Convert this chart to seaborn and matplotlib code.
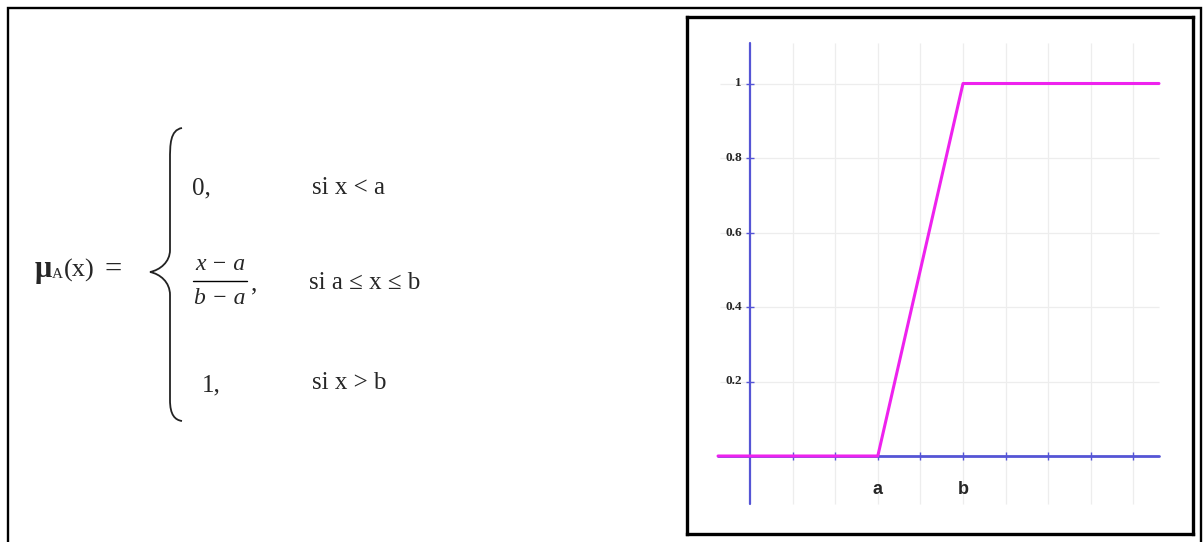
import matplotlib
matplotlib.use("Agg")
import matplotlib.pyplot as plt
from matplotlib.path import Path
from matplotlib.patches import PathPatch
import seaborn as sns
import pandas as pd
import numpy as np

# membership function (trapezoid / ramp), a=3, b=5
x_pts = [-0.75, 3, 5, 9.6]
mu_pts = [0, 0, 1, 1]
y_ticks = [0.2, 0.4, 0.6, 0.8, 1.0]
y_tick_labels = ["0.2", "0.4", "0.6", "0.8", "1"]
x_ticks = [1, 2, 3, 4, 5, 6, 7, 8, 9]
x_names = {"a": 3, "b": 5}

PINK = "#ee22ee"
BLUE = "#5555d5"
GRID = "#ededed"

sns.set_style("white")
plt.rcParams["font.family"] = ["Liberation Serif", "DejaVu Serif"]

fig = plt.figure(figsize=(12.03, 5.42), dpi=100)

# overlay in pixel coordinates for frame, brace and formula
ov = fig.add_axes([0, 0, 1, 1])
ov.set_xlim(0, 1203)
ov.set_ylim(542, 0)
ov.axis("off")
ov.patch.set_alpha(0)

ov.plot([7.5, 7.5, 1200.5, 1200.5], [542, 7.5, 7.5, 542], color="black", lw=1.7,
        solid_joinstyle="miter")

# brace
verts = [(182, 128), (170, 130), (170, 145), (170, 160),
         (170, 250),
         (170, 262), (160, 270), (150, 272),
         (160, 274), (170, 282), (170, 295),
         (170, 400),
         (170, 415), (175, 420), (182, 421)]
codes = [Path.MOVETO, Path.CURVE4, Path.CURVE4, Path.LINETO,
         Path.LINETO,
         Path.CURVE4, Path.CURVE4, Path.CURVE4,
         Path.CURVE4, Path.CURVE4, Path.CURVE4,
         Path.LINETO,
         Path.CURVE4, Path.CURVE4, Path.CURVE4]
ov.add_patch(PathPatch(Path(verts, codes), fill=False, lw=1.3, color="#222222"))

fs = 18
ov.text(35, 270, "μ", fontsize=22, fontweight="bold", va="center", ha="left")
ov.text(52, 275, "A", fontsize=11, va="center", ha="left")
ov.text(64, 270, "(x)", fontsize=19, va="center", ha="left")
ov.text(104, 270, "=", fontsize=22, va="center", ha="left")

ov.text(192, 188, "0,", fontsize=fs, va="center", ha="left")
ov.text(312, 188, "si x < a", fontsize=fs, va="center", ha="left")

ov.text(220, 265, "x − a", fontsize=fs - 1, style="italic", va="center", ha="center")
ov.plot([193, 247], [281, 281], color="black", lw=1.0)
ov.text(220, 299, "b − a", fontsize=fs - 1, style="italic", va="center", ha="center")
ov.text(251, 284, ",", fontsize=fs, va="center", ha="left")
ov.text(309, 283, "si a ≤ x ≤ b", fontsize=fs, va="center", ha="left")

ov.text(202, 385, "1,", fontsize=fs, va="center", ha="left")
ov.text(312, 383, "si x > b", fontsize=fs, va="center", ha="left")

# plot panel
px, py = 42.6, 372.5
left, right, top, bottom = 687, 1193, 17, 534
ax = fig.add_axes([left / 1203, (542 - bottom) / 542,
                   (right - left) / 1203, (bottom - top) / 542])
ax.set_xlim((left - 750) / px, (right - 750) / px)
ax.set_ylim((456 - bottom) / py, (456 - top) / py)
for s in ax.spines.values():
    s.set_color("black")
    s.set_linewidth(2.4)

# grid
ax.hlines(y_ticks, -0.7, 9.6, color=GRID, lw=0.9, zorder=1)
ax.vlines(x_ticks, -0.13, 1.11, color=GRID, lw=0.9, zorder=1)

# axes lines
ax.plot([-0.75, 9.6], [0, 0], color=BLUE, lw=2.0, zorder=2)
ax.plot([0, 0], [-0.13, 1.11], color=BLUE, lw=1.6, zorder=2)
tx = 4 / px
ty = 4 / py
ax.vlines(x_ticks, -ty, ty, color=BLUE, lw=1.0, zorder=2)
ax.hlines(y_ticks, -tx, tx, color=BLUE, lw=1.0, zorder=2)

df = pd.DataFrame({"x": x_pts, "mu": mu_pts})
sns.lineplot(data=df, x="x", y="mu", ax=ax, color=PINK, lw=2.2, zorder=3, sort=False)
ax.set_xlabel("")
ax.set_ylabel("")
ax.set_xticks([])
ax.set_yticks([])

for v, lab in zip(y_ticks, y_tick_labels):
    ax.text(-0.19, v, lab, fontsize=9.5, fontweight="bold", ha="right", va="center",
            family=["Liberation Serif"])
for lab, v in x_names.items():
    ax.text(v, -0.09, lab, fontsize=13, fontweight="bold", ha="center", va="center",
            family=["Liberation Sans"])

fig.savefig("out.png", dpi=100)
